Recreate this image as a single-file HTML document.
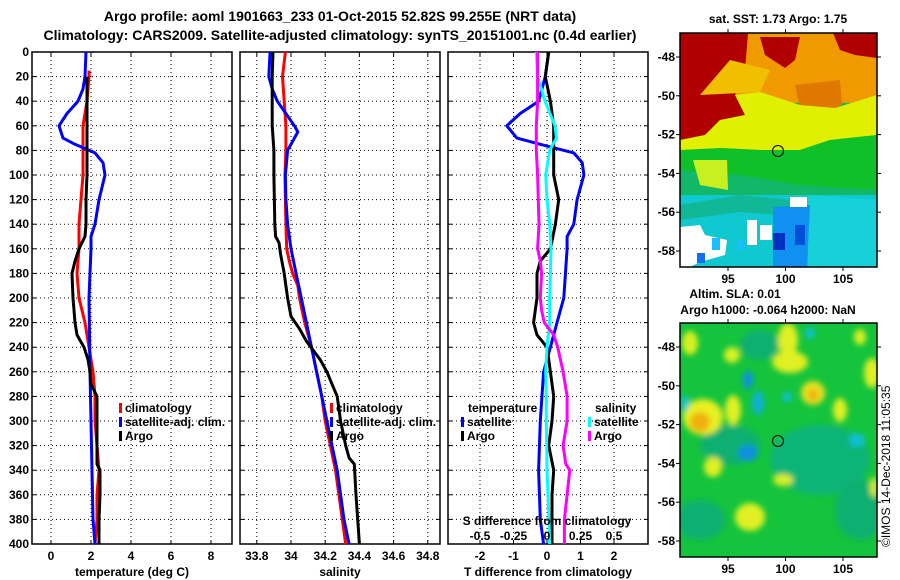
<!DOCTYPE html>
<html><head><meta charset="utf-8"><style>
body{margin:0;background:#fff}
svg{display:block;font-family:"Liberation Sans",Arial,sans-serif;font-weight:bold}
</style></head><body>
<svg id="fig" width="900" height="580" viewBox="0 0 900 580">
<defs>
<filter id="blur3" x="-10%" y="-10%" width="120%" height="120%"><feGaussianBlur stdDeviation="3"/></filter>
<filter id="blur1"><feGaussianBlur stdDeviation="1"/></filter>
<clipPath id="clipTop"><rect x="680" y="33" width="197" height="234"/></clipPath>
<clipPath id="clipBot"><rect x="680" y="323" width="197" height="234"/></clipPath>
</defs>
<text x="340" y="21" font-size="14" text-anchor="middle">Argo profile: aoml 1901663_233 01-Oct-2015 52.82S 99.255E (NRT data)</text>
<text x="340" y="40" font-size="14" text-anchor="middle">Climatology: CARS2009. Satellite-adjusted climatology: synTS_20151001.nc (0.4d earlier)</text>

<!-- top map -->
<g clip-path="url(#clipTop)">
<rect x="680" y="33" width="197" height="234" fill="#10b868"/>
<rect x="680" y="33" width="197" height="70" fill="#f09a00"/>
<path d="M680,33 H748 L745,70 L735,95 L745,115 L720,120 L705,135 L680,140Z" fill="#b00000"/>
<path d="M760,37 H800 L795,60 L785,68 L765,55Z" fill="#b00000"/>
<path d="M833,33 H877 V58 L855,55 L840,50Z" fill="#b00000"/>
<path d="M795,85 L840,80 L842,105 L820,115 L800,108Z" fill="#e07800"/>
<path d="M680,140 L705,135 L720,120 L745,115 L735,95 L760,92 L800,105 L835,108 L877,95 V135 L830,140 L800,150 L760,150 L720,148 L700,150 L680,150Z" fill="#e0f000"/>
<path d="M700,95 L760,92 L770,70 L730,60Z" fill="#f0c000"/>
<path d="M680,150 L720,148 L760,150 L800,150 L830,140 L877,135 V190 L800,185 L740,175 L680,170Z" fill="#10c028"/>
<path d="M693,160 L727,160 L728,190 L700,185Z" fill="#c8f020"/>
<rect x="680" y="195" width="197" height="72" fill="#10c8d0"/>
<path d="M680,205 L740,195 L790,200 L800,210 L780,215 L740,212 L680,220Z" fill="#10b898"/>
<path d="M808,195 L877,200 V267 L808,267Z" fill="#18d0d8"/>
<path d="M773,207 L810,205 L807,267 L773,267Z" fill="#1090f0"/>
<rect x="773" y="233" width="12" height="17" fill="#0030c0"/>
<rect x="795" y="225" width="10" height="20" fill="#0050d8"/>
<path d="M680,227 L700,225 L705,235 L727,240 L725,255 L700,262 L690,267 H680Z" fill="#fff"/>
<rect x="790" y="197" width="17" height="10" fill="#fff"/>
<rect x="747" y="220" width="10" height="25" fill="#fff"/>
<rect x="760" y="225" width="12" height="15" fill="#fff"/>
<rect x="712" y="238" width="8" height="12" fill="#18c0ff"/>
<rect x="737" y="240" width="6" height="10" fill="#18c0ff"/>
<rect x="697" y="253" width="8" height="10" fill="#1070f0"/>
</g>
<rect x="680" y="33" width="197" height="234" fill="none" stroke="#000" stroke-width="1.5"/>
<circle cx="778" cy="151" r="5.5" fill="none" stroke="#000"/>
<text x="778" y="23" font-size="12" text-anchor="middle">sat. SST: 1.73 Argo: 1.75</text>

<!-- bottom map -->
<g clip-path="url(#clipBot)">
<rect x="680" y="323" width="197" height="234" fill="#14c43c"/>
<g filter="url(#blur3)">
<ellipse cx="730" cy="445" rx="30" ry="20" fill="#10b070"/>
<ellipse cx="820" cy="460" rx="50" ry="35" fill="#10b478"/>
<ellipse cx="860" cy="510" rx="25" ry="30" fill="#10b070"/>
<ellipse cx="700" cy="520" rx="25" ry="20" fill="#10b070"/>
<ellipse cx="760" cy="345" rx="20" ry="15" fill="#10b070"/>
<ellipse cx="703" cy="417" rx="20" ry="18" fill="#e8f020"/>
<ellipse cx="700" cy="422" rx="10" ry="10" fill="#f0b010"/>
<ellipse cx="733" cy="410" rx="8" ry="15" fill="#e0f020"/>
<ellipse cx="790" cy="362" rx="18" ry="11" fill="#e0f020"/>
<ellipse cx="788" cy="340" rx="10" ry="17" fill="#e0f020"/>
<ellipse cx="813" cy="393" rx="12" ry="12" fill="#e8e020"/>
<ellipse cx="813" cy="395" rx="5" ry="6" fill="#f0b010"/>
<ellipse cx="840" cy="410" rx="7" ry="12" fill="#e0f020"/>
<ellipse cx="872" cy="373" rx="8" ry="15" fill="#e0f020"/>
<ellipse cx="713" cy="467" rx="9" ry="10" fill="#e0f020"/>
<ellipse cx="750" cy="517" rx="15" ry="14" fill="#e0f020"/>
<ellipse cx="783" cy="480" rx="10" ry="6" fill="#d8f020"/>
<ellipse cx="690" cy="343" rx="8" ry="12" fill="#d8f020"/>
<ellipse cx="732" cy="355" rx="8" ry="8" fill="#d8f020"/>
<ellipse cx="860" cy="337" rx="6" ry="8" fill="#d8f020"/>
<ellipse cx="874" cy="487" rx="4" ry="10" fill="#d8f020"/>
<ellipse cx="748" cy="380" rx="5" ry="9" fill="#1090e0"/>
<ellipse cx="758" cy="403" rx="6" ry="12" fill="#10b0d8"/>
<ellipse cx="748" cy="453" rx="10" ry="8" fill="#1090e0"/>
<ellipse cx="685" cy="403" rx="4" ry="8" fill="#10c0d0"/>
<ellipse cx="857" cy="440" rx="8" ry="7" fill="#10c0d0"/>
<ellipse cx="810" cy="333" rx="5" ry="6" fill="#10c0d0"/>
<ellipse cx="787" cy="397" rx="5" ry="5" fill="#10c0d0"/>
</g>
</g>
<rect x="680" y="323" width="197" height="234" fill="none" stroke="#000" stroke-width="1.5"/>
<circle cx="778" cy="441" r="5.5" fill="none" stroke="#000"/>
<text x="735" y="298" font-size="12" text-anchor="middle">Altim. SLA: 0.01</text>
<text x="768" y="314" font-size="12" text-anchor="middle">Argo h1000: -0.064 h2000: NaN</text>
<text transform="translate(890,547) rotate(-90)" font-size="12" font-weight="normal">©IMOS 14-Dec-2018 11:05:35</text>

<g id="plots"></g>
</svg>
<script>
// ---- data ----
const depthTicks = [0,20,40,60,80,100,120,140,160,180,200,220,240,260,280,300,320,340,360,380,400];
const tempTicks = [0,2,4,6,8];
const salTicks = [33.8,34,34.2,34.4,34.6,34.8];
const salTickLabels = ["33.8","34","34.2","34.4","34.6","34.8"];
const tdiffTicks = [-2,-1,0,1,2];
const sdiffTicks = [-0.5,-0.25,0,0.25,0.5];
const sdiffTickLabels = ["-0.5","-0.25","0","0.25","0.5"];
const latTicks = [-48,-50,-52,-54,-56,-58];
const lonTicks = [95,100,105];

const tDepthClim = [15,20,40,60,80,100,120,140,160,180,200,220,240,260,280,300,320,340,360,380,400];
const tClim = [1.9,1.9,1.8,1.6,1.6,1.6,1.5,1.4,1.4,1.3,1.4,1.7,1.9,2.1,2.2,2.2,2.3,2.4,2.3,2.3,2.2];
const tDepthSat = [0,20,30,40,50,60,70,75,82,90,100,120,140,150,160,200,260,300,340,380,390,400];
const tSat = [1.75,1.7,1.6,1.35,0.8,0.4,0.6,1.2,2.2,2.6,2.7,2.4,2.2,2.0,2.0,1.9,1.95,2.0,2.05,2.1,2.15,2.2];
const tDepthArgo = [20,40,80,100,120,140,150,160,170,180,200,210,220,230,240,250,260,270,280,300,320,335,340,360,380,400];
const tArgo = [1.8,1.8,1.8,1.8,1.75,1.75,1.7,1.4,1.2,1.05,1.1,1.15,1.2,1.3,1.65,1.85,1.95,2.0,2.3,2.3,2.3,2.3,2.45,2.45,2.4,2.4];

const sDepthClim = [0,20,40,60,80,100,120,140,160,170,180,190,200,220,240,260,280,300,320,340,360,380,400];
const sClim = [33.967,33.95,33.96,33.97,33.97,33.965,33.967,33.97,33.975,33.99,34.01,34.04,34.05,34.08,34.12,34.15,34.18,34.2,34.23,34.26,34.28,34.3,34.32];
const sDepthSat = [0,20,30,40,50,60,65,70,80,100,120,140,160,180,200,220,240,260,280,300,320,340,360,380,400];
const sSat = [33.878,33.87,33.89,33.92,33.97,34.02,34.04,34.02,33.98,33.967,33.97,33.98,34.0,34.03,34.06,34.09,34.12,34.15,34.18,34.21,34.24,34.27,34.29,34.31,34.34];
const sDepthArgo = [0,20,60,80,100,140,150,155,165,180,200,215,225,235,250,260,270,280,300,320,330,335,360,380,400];
const sArgo = [33.895,33.89,33.89,33.9,33.9,33.905,33.91,33.93,33.94,33.96,33.98,34.0,34.05,34.09,34.17,34.21,34.24,34.27,34.29,34.32,34.34,34.37,34.38,34.39,34.4];

const dtSatDepth = [0,20,40,50,60,70,75,82,90,100,120,140,150,160,200,220,240,260,300,340,380,400];
const dtSat = [0.05,-0.05,-0.25,-0.8,-1.2,-0.9,-0.2,0.8,1.05,1.1,0.9,0.8,0.6,0.6,0.5,0.3,0.1,-0.1,-0.2,-0.25,-0.2,-0.1];
const dtArgoDepth = [0,20,40,60,80,100,120,140,160,170,180,200,220,230,240,260,280,300,320,340,360,400];
const dtArgo = [0.05,-0.05,0.1,0.2,0.2,0.2,0.35,0.25,0.1,-0.2,-0.3,-0.3,-0.4,-0.3,0,0.1,0.2,0.15,0.05,0.2,0.15,0.15];
const dsSatDepth = [0,20,40,60,70,80,100,120,140,160,180,200,220,240,260,280,300,340,380,400];
const dsSat = [-0.08,-0.07,-0.015,0.06,0.07,0.02,-0.01,0,0.02,0.03,0.025,0.02,0.02,0,-0.01,-0.005,-0.005,0,0.015,0.02];
const dsArgoDepth = [0,40,60,80,100,140,160,170,180,200,210,220,230,240,260,280,300,320,335,340,360,380,400];
const dsArgo = [-0.07,-0.07,-0.08,-0.08,-0.07,-0.06,-0.07,-0.05,-0.04,-0.05,-0.04,-0.02,0.05,0.08,0.12,0.15,0.15,0.12,0.14,0.17,0.15,0.13,0.13];

// ---- scales ----
const TOP = 52, BOT = 544;
const yD = d => TOP + (BOT - TOP) * d / 400;
const xT = v => 51 + 20 * v;
const xS = v => 291 + (v - 34) * 171;
const xDT = v => 547 + v * 33.5;
const xDS = v => 547 + v * 134;
const mapX = lon => 728 + (lon - 95) * 11.5;
const mapY = (lat, top) => top + 24 + (-48 - lat) * 19.4;

const NS = "http://www.w3.org/2000/svg";
const root = document.getElementById('plots');
function mk(tag, attrs, parent) {
  const e = document.createElementNS(NS, tag);
  for (const k in attrs) e.setAttribute(k, attrs[k]);
  (parent || root).appendChild(e);
  return e;
}
function txt(s, x, y, anchor, parent) {
  const t = mk('text', {x: x, y: y, 'font-size': 12, 'text-anchor': anchor || 'middle'}, parent);
  t.textContent = s;
  return t;
}

function panel(name, x0, x1, xTicks, xScale, xLabels, title) {
  const g = mk('g', {});
  
  
  const grid = mk('g', {stroke: '#000', 'stroke-width': 1, 'stroke-dasharray': '1,3'}, g);
  
  
  depthTicks.forEach(d => { if (d > 0 && d < 400) mk('line', {x1: x0, x2: x1, y1: yD(d), y2: yD(d)}, grid); });
  xTicks.forEach(v => mk('line', {x1: xScale(v), x2: xScale(v), y1: TOP, y2: BOT}, grid));
  const ticks = mk('g', {stroke: '#000', 'stroke-width': 1}, g);
  depthTicks.forEach(d => {
    mk('line', {x1: x0, x2: x0 + 4, y1: yD(d), y2: yD(d)}, ticks);
    mk('line', {x1: x1 - 4, x2: x1, y1: yD(d), y2: yD(d)}, ticks);
  });
  xTicks.forEach(v => {
    mk('line', {x1: xScale(v), x2: xScale(v), y1: BOT, y2: BOT - 4}, ticks);
    mk('line', {x1: xScale(v), x2: xScale(v), y1: TOP, y2: TOP + 4}, ticks);
  });
  const lab = mk('g', {}, g);
  
  
  xTicks.forEach((v, i) => txt(xLabels[i], xScale(v), 560, 'middle', lab));
  const tt = txt(title, (x0 + x1) / 2, 576, 'middle', g);
  
  
  const fr = mk('rect', {x: x0, y: TOP, width: x1 - x0, height: BOT - TOP, fill: 'none', stroke: '#000', 'stroke-width': 1.5}, g);
  
  
  return g;
}
function series(g, name, depths, vals, xScale, color) {
  const pts = depths.map((d, i) => xScale(vals[i]).toFixed(1) + ',' + yD(d).toFixed(1)).join(' ');
  const p = mk('polyline', {points: pts, fill: 'none', stroke: color, 'stroke-width': 3, 'stroke-linejoin': 'round'}, g);
  
  
}
function legend(g, name, x, y, label, color) {
  const lg = mk('g', {}, g);
  
  
  mk('rect', {x: x, y: y - 9, width: 3, height: 10, fill: color}, lg);
  txt(label, x + 6, y, 'start', lg);
}

// panel 1: temperature
const p1 = panel('temperature', 32, 232, tempTicks, xT, tempTicks.map(String), 'temperature (deg C)');
const yl = mk('g', {}, p1);


depthTicks.forEach(d => txt(String(d), 29, yD(d) + 4, 'end', yl));
series(p1, 'temp-climatology-line', tDepthClim, tClim, xT, '#ff0000');
series(p1, 'temp-satellite-line', tDepthSat, tSat, xT, '#0000ff');
series(p1, 'temp-argo-line', tDepthArgo, tArgo, xT, '#000000');
legend(p1, 'legend-climatology', 119, 412, 'climatology', '#ff0000');
legend(p1, 'legend-satellite-adj', 119, 426, 'satellite-adj. clim.', '#0000ff');
legend(p1, 'legend-argo', 119, 440, 'Argo', '#000000');

// panel 2: salinity
const p2 = panel('salinity', 240, 440, salTicks, xS, salTickLabels, 'salinity');
series(p2, 'sal-climatology-line', sDepthClim, sClim, xS, '#ff0000');
series(p2, 'sal-satellite-line', sDepthSat, sSat, xS, '#0000ff');
series(p2, 'sal-argo-line', sDepthArgo, sArgo, xS, '#000000');
legend(p2, 'legend-sal-climatology', 330, 412, 'climatology', '#ff0000');
legend(p2, 'legend-sal-satellite-adj', 330, 426, 'satellite-adj. clim.', '#0000ff');
legend(p2, 'legend-sal-argo', 330, 440, 'Argo', '#000000');

// panel 3: differences
const p3 = panel('difference', 448, 648, tdiffTicks, xDT, tdiffTicks.map(String), 'T difference from climatology');
series(p3, 'tdiff-satellite-line', dtSatDepth, dtSat, xDT, '#0000ff');
series(p3, 'tdiff-argo-line', dtArgoDepth, dtArgo, xDT, '#000000');
series(p3, 'sdiff-satellite-line', dsSatDepth, dsSat, xDS, '#00ffff');
series(p3, 'sdiff-argo-line', dsArgoDepth, dsArgo, xDS, '#ff00ff');
const lt = txt('temperature', 468, 412, 'start', p3);
const ls = txt('salinity', 595, 412, 'start', p3);
legend(p3, 'legend-t-satellite', 461, 426, 'satellite', '#0000ff');
legend(p3, 'legend-t-argo', 461, 440, 'Argo', '#000000');
legend(p3, 'legend-s-satellite', 588, 426, 'satellite', '#00ffff');
legend(p3, 'legend-s-argo', 588, 440, 'Argo', '#ff00ff');
const sdt = txt('S difference from climatology', 547, 525, 'middle', p3);


const sdl = mk('g', {}, p3);


sdiffTicks.forEach((v, i) => txt(sdiffTickLabels[i], xDS(v), 540, 'middle', sdl));

// map axes
[33, 323].forEach((top, k) => {
  const g = mk('g', {});
  
  
  latTicks.forEach(l => {
    const y = mapY(l, top);
    txt(String(l), 675, y + 4, 'end', g);
    mk('line', {x1: 877, x2: 881, y1: y, y2: y, stroke: '#000'}, g);
    mk('line', {x1: 676, x2: 680, y1: y, y2: y, stroke: '#000'}, g);
  });
  lonTicks.forEach(l => {
    const x = mapX(l);
    txt(String(l), x, top + 250, 'middle', g);
    mk('line', {x1: x, x2: x, y1: top, y2: top - 4, stroke: '#000'}, g);
    mk('line', {x1: x, x2: x, y1: top + 234, y2: top + 238, stroke: '#000'}, g);
  });
});
</script>
</body></html>
